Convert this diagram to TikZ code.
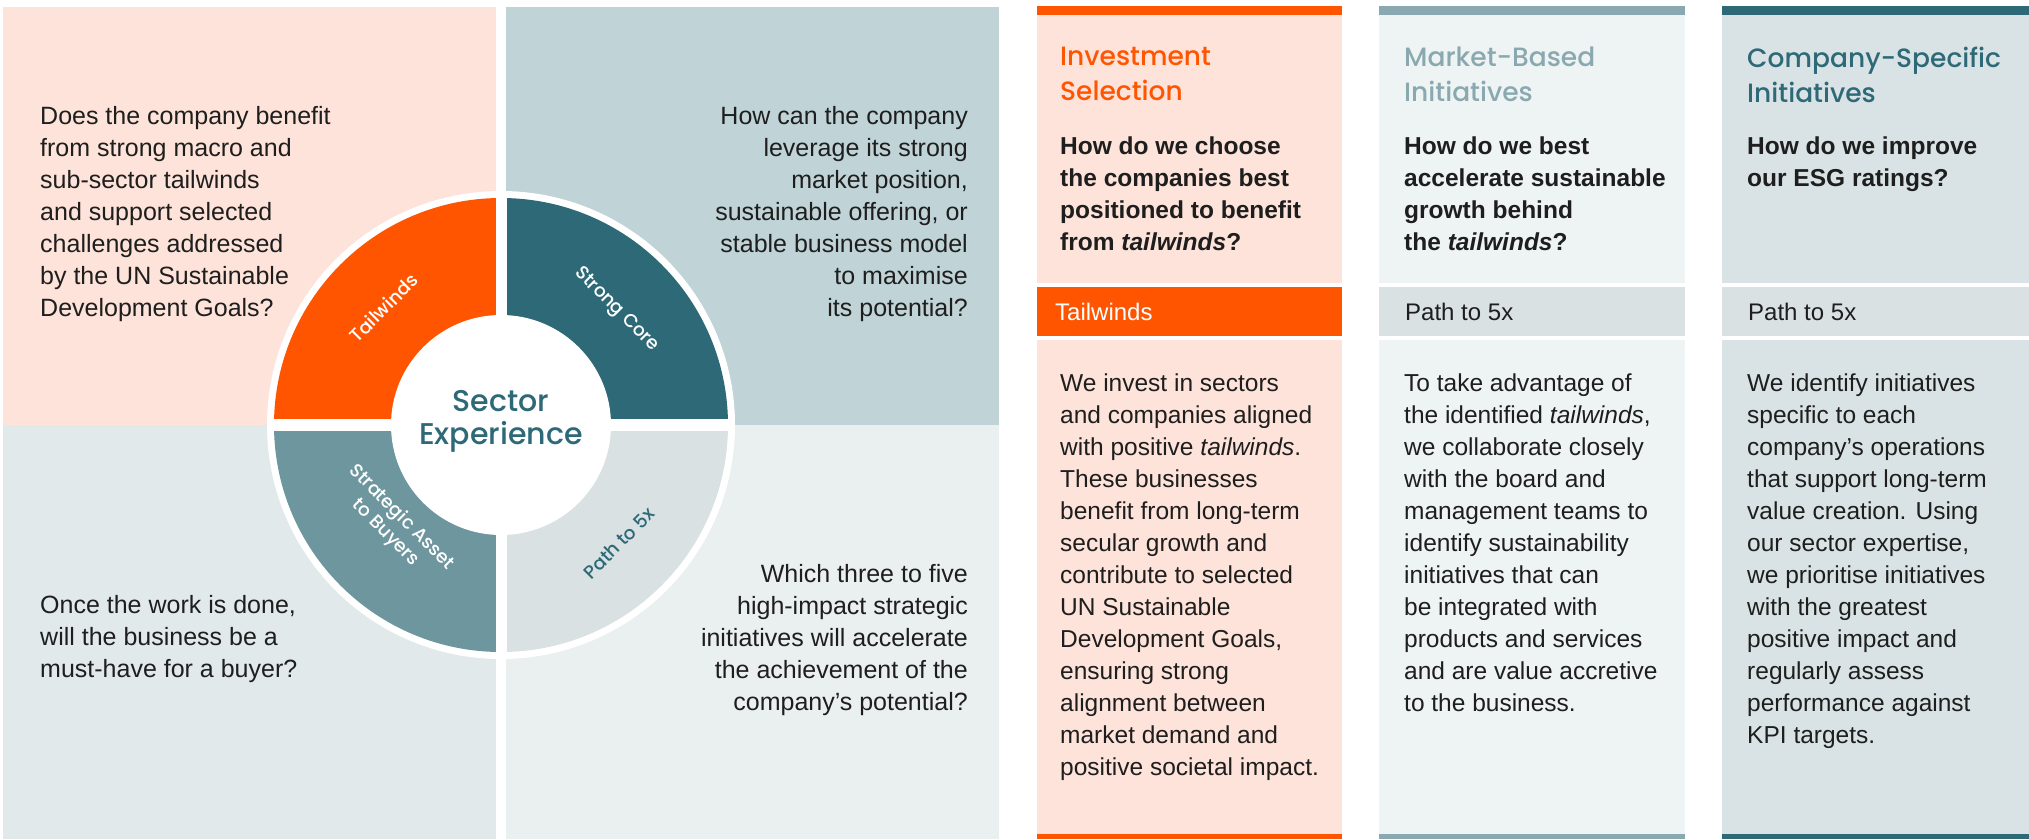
\documentclass[tikz,border=0pt]{standalone}
\usepackage{fontspec}
\setmainfont{Liberation Sans}
\newfontfamily\headfont{Poppins}[UprightFont={* Medium}]

\definecolor{tailOrange}{HTML}{FF5500}
\definecolor{peachBg}{HTML}{FDE3D9}
\definecolor{coreTeal}{HTML}{2E6977}
\definecolor{assetTeal}{HTML}{6D969E}
\definecolor{pathGrey}{HTML}{D9E1E3}
\definecolor{coreBg}{HTML}{C0D3D7}
\definecolor{assetBg}{HTML}{E1E9EB}
\definecolor{pathBg}{HTML}{EAEFF0}
\definecolor{marketFill}{HTML}{EEF3F4}
\definecolor{marketSteel}{HTML}{8AA8AF}
\definecolor{companyFill}{HTML}{D9E3E5}
\definecolor{inkBlack}{HTML}{1E1E1E}

\begin{document}
\begin{tikzpicture}[x=1pt,y=1pt,yscale=-1,
  qtext/.style={inner sep=0pt, text=inkBlack, font=\fontsize{25}{32}\selectfont},
  ringlabel/.style={inner sep=0pt, align=center, font=\headfont\fontsize{18.5}{22}\selectfont},
  headtext/.style={anchor=north west, inner sep=0pt, align=left, font=\headfont\fontsize{26.5}{35}\selectfont},
  asktext/.style={anchor=north west, inner sep=0pt, align=left, text=inkBlack, font=\bfseries\fontsize{24.5}{31.7}\selectfont},
  bandtext/.style={anchor=west, inner sep=0pt, font=\fontsize{24}{28}\selectfont},
  bodytext/.style={anchor=north west, inner sep=0pt, align=left, text=inkBlack, font=\fontsize{24.5}{32}\selectfont}]
\useasboundingbox (0,0) rectangle (2029,839);

%Shape: Quadrant panels
\fill[peachBg] (3,7) rectangle (496,425);
\fill[coreBg] (506,7) rectangle (999,425);
\fill[assetBg] (3,425) rectangle (496,839);
\fill[pathBg] (506,425) rectangle (999,839);

%Shape: Ring
\begin{scope}[shift={(501,425)},yscale=-1]
\fill[white] (0,0) circle (234);
\fill[coreTeal] (0,0) -- (0:227) arc[start angle=0,end angle=90,radius=227] -- cycle;
\fill[tailOrange] (0,0) -- (90:227) arc[start angle=90,end angle=180,radius=227] -- cycle;
\fill[assetTeal] (0,0) -- (180:227) arc[start angle=180,end angle=270,radius=227] -- cycle;
\fill[pathGrey] (0,0) -- (270:227) arc[start angle=270,end angle=360,radius=227] -- cycle;
\fill[white] (-5.5,-234) rectangle (5.5,234);
\fill[white] (-234,-6) rectangle (234,6);
\fill[white] (0,0) circle (110);
% Text Node
\node[ringlabel, text=white, rotate=45] (ringTail) at (135:166) {Tailwinds};
% Text Node
\node[ringlabel, text=white, rotate=-45] (ringCore) at (45:163) {Strong Core};
% Text Node
\node[ringlabel, text=white, rotate=-45] (ringAsset) at (223:147) {Strategic Asset\\to Buyers};
% Text Node
\node[ringlabel, text=coreTeal, rotate=45] (ringPath) at (315:167) {Path to 5x};
\end{scope}

% Text Node
\node[anchor=north, inner sep=0pt, align=center, text=coreTeal, font=\headfont\fontsize{30}{33}\selectfont] (hub) at (501,390) {Sector\\Experience};

% Text Node
\node[qtext, anchor=north west, align=left] (askTail) at (40,106) {Does the company benefit\\from strong macro and\\sub-sector tailwinds\\and support selected\\challenges addressed\\by the UN Sustainable\\Development Goals?};
% Text Node
\node[qtext, anchor=north east, align=right] (askCore) at (968,106) {How can the company\\leverage its strong\\market position,\\sustainable offering, or\\stable business model\\to maximise\\its potential?};
% Text Node
\node[qtext, anchor=north west, align=left] (askAsset) at (40,595) {Once the work is done,\\will the business be a\\must-have for a buyer?};
% Text Node
\node[qtext, anchor=north east, align=right] (askPath) at (968,564) {Which three to five\\high-impact strategic\\initiatives will accelerate\\the achievement of the\\company’s potential?};

%Shape: Investment Selection column
\fill[peachBg] (1037,15) rectangle (1342,283);
\fill[tailOrange] (1037,6) rectangle (1342,15);
\fill[tailOrange] (1037,287) rectangle (1342,336);
\fill[peachBg] (1037,340) rectangle (1342,834);
\fill[tailOrange] (1037,834) rectangle (1342,839);
% Text Node
\node[headtext, text=tailOrange] (invHead) at (1060,47) {Investment\\Selection};
% Text Node
\node[asktext] (invAsk) at (1060,137) {How do we choose\\the companies best\\positioned to benefit\\from \textit{tailwinds}?};
% Text Node
\node[bandtext, text=white] (invBand) at (1055,311.5) {Tailwinds};
% Text Node
\node[bodytext] (invBody) at (1060,374) {We invest in sectors\\and companies aligned\\with positive \textit{tailwinds}.\\These businesses\\benefit from long-term\\secular growth and\\contribute to selected\\UN Sustainable\\Development Goals,\\ensuring strong\\alignment between\\market demand and\\positive societal impact.};

%Shape: Market-Based Initiatives column
\fill[marketFill] (1379,15) rectangle (1685,283);
\fill[marketSteel] (1379,6) rectangle (1685,15);
\fill[pathGrey] (1379,287) rectangle (1685,336);
\fill[marketFill] (1379,340) rectangle (1685,834);
\fill[marketSteel] (1379,834) rectangle (1685,839);
% Text Node
\node[headtext, text=marketSteel] (mktHead) at (1404,47) {Market-Based\\Initiatives};
% Text Node
\node[asktext] (mktAsk) at (1404,137) {How do we best\\accelerate sustainable\\growth behind\\the \textit{tailwinds}?};
% Text Node
\node[bandtext, text=inkBlack] (mktBand) at (1405,311.5) {Path to 5x};
% Text Node
\node[bodytext] (mktBody) at (1404,374) {To take advantage of\\the identified \textit{tailwinds},\\we collaborate closely\\with the board and\\management teams to\\identify sustainability\\initiatives that can\\be integrated with\\products and services\\and are value accretive\\to the business.};

%Shape: Company-Specific Initiatives column
\fill[companyFill] (1722,15) rectangle (2029,283);
\fill[coreTeal] (1722,6) rectangle (2029,15);
\fill[pathGrey] (1722,287) rectangle (2029,336);
\fill[companyFill] (1722,340) rectangle (2029,834);
\fill[coreTeal] (1722,834) rectangle (2029,839);
% Text Node
\node[headtext, text=coreTeal] (coHead) at (1747,47) {Company-Specific\\Initiatives};
% Text Node
\node[asktext] (coAsk) at (1747,137) {How do we improve\\our ESG ratings?};
% Text Node
\node[bandtext, text=inkBlack] (coBand) at (1748,311.5) {Path to 5x};
% Text Node
\node[bodytext] (coBody) at (1747,374) {We identify initiatives\\specific to each\\company’s operations\\that support long-term\\value creation. Using\\our sector expertise,\\we prioritise initiatives\\with the greatest\\positive impact and\\regularly assess\\performance against\\KPI targets.};
\end{tikzpicture}
\end{document}
